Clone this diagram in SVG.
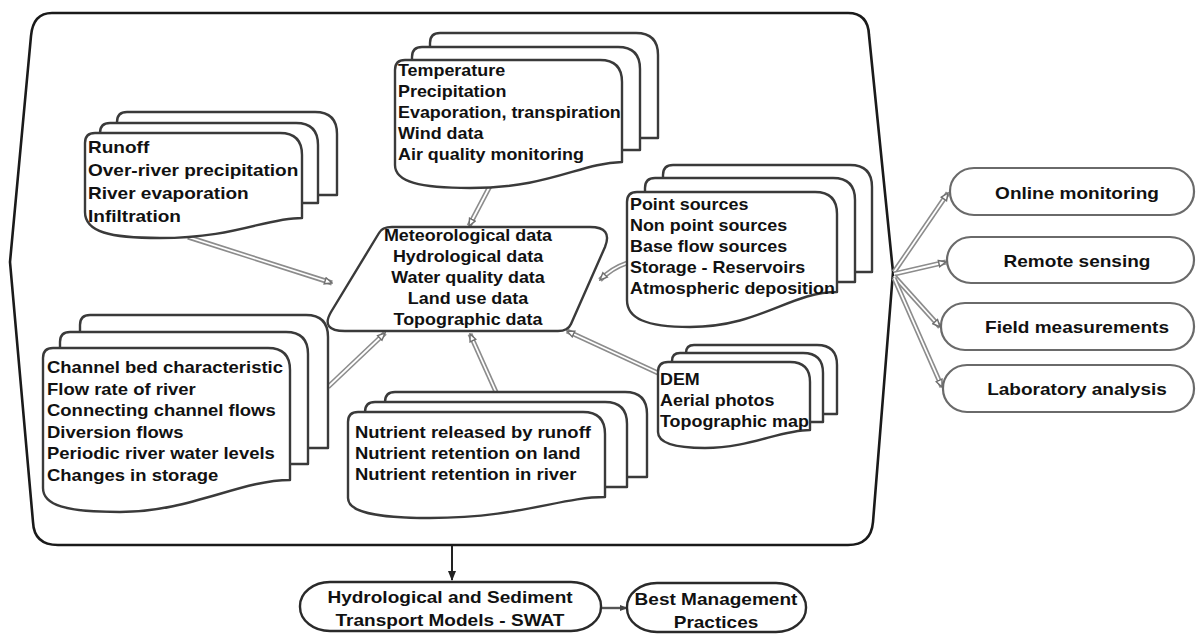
<svg xmlns="http://www.w3.org/2000/svg" width="1198" height="634" viewBox="0 0 1198 634">
<defs>
<style>
.bg{fill:#fff}
.frame{fill:none;stroke:#1a1a1a;stroke-width:2.6;stroke-linejoin:round}
.doc{fill:#fff;stroke:#3a3a3a;stroke-width:2.4;stroke-linejoin:round}
.pill{fill:#fff;stroke:#6a6a6a;stroke-width:2.2}
.pill2{fill:#fff;stroke:#2a2a2a;stroke-width:2.4}
.c1{fill:none;stroke:#8c8c8c;stroke-width:5;stroke-linecap:butt}
.c2{fill:none;stroke:#fff;stroke-width:1.8;stroke-linecap:butt}
.blk{fill:none;stroke:#222;stroke-width:2}
.gr{fill:none;stroke:#555;stroke-width:2.4}
text{font-family:"Liberation Sans",Arial,sans-serif;font-weight:bold;fill:#111}
.f16{font-size:16px}
.f165{font-size:16.5px}
.f17{font-size:17px}
.mid{text-anchor:middle}
</style>
<marker id="ah" viewBox="0 0 10 10" refX="9" refY="5" markerWidth="9" markerHeight="9" markerUnits="userSpaceOnUse" orient="auto">
<path d="M1,1.5 L9,5 L1,8.5 Z" fill="#fff" stroke="#6f6f6f" stroke-width="1.6"/>
</marker>
<marker id="ahb" viewBox="0 0 10 10" refX="9" refY="5" markerWidth="10" markerHeight="10" markerUnits="userSpaceOnUse" orient="auto">
<path d="M0,1 L10,5 L0,9 Z" fill="#222"/>
</marker>
<marker id="ahg" viewBox="0 0 10 10" refX="9" refY="5" markerWidth="8" markerHeight="8" markerUnits="userSpaceOnUse" orient="auto">
<path d="M0,1 L10,5 L0,9 Z" fill="#444"/>
</marker>
</defs>
<rect class="bg" x="0" y="0" width="1198" height="634"/>

<g id="container">
<path class="frame" d="M52,13 L848,13 Q868,13 869,35 L893,272 L873,522 Q871,545 848,545 L58,545 Q34,545 33,522 L10,262 L31,36 Q33,13 52,13 Z"/>
</g>

<g id="connectors">
<path class="c1" d="M188,237 L332,283"/><path class="c2" d="M188,237 L332,283" marker-end="url(#ah)"/>
<path class="c1" d="M490,186 L469,226"/><path class="c2" d="M490,186 L469,226" marker-end="url(#ah)"/>
<path class="c1" d="M627,263 Q612,268 600,280"/><path class="c2" d="M627,263 Q612,268 600,280" marker-end="url(#ah)"/>
<path class="c1" d="M658,373 L567,331"/><path class="c2" d="M658,373 L567,331" marker-end="url(#ah)"/>
<path class="c1" d="M496,392 L470,334"/><path class="c2" d="M496,392 L470,334" marker-end="url(#ah)"/>
<path class="c1" d="M328,387 L385,333"/><path class="c2" d="M328,387 L385,333" marker-end="url(#ah)"/>
<path class="c1" d="M894,272 L948,193"/><path class="c2" d="M894,272 L948,193" marker-end="url(#ah)"/>
<path class="c1" d="M894,274 L946,262"/><path class="c2" d="M894,274 L946,262" marker-end="url(#ah)"/>
<path class="c1" d="M894,276 L940,327"/><path class="c2" d="M894,276 L940,327" marker-end="url(#ah)"/>
<path class="c1" d="M894,278 L942,387"/><path class="c2" d="M894,278 L942,387" marker-end="url(#ah)"/>
<path class="blk" d="M452,546 L452,580" marker-end="url(#ahb)"/>
<path class="gr" d="M601,608 L627,608" marker-end="url(#ahg)"/>
</g>

<g id="node-runoff">
<path class="doc" d="M117,195 L117,122 Q117,112 127,112 L315,112 Q337,112 337,134 L337,195 Z"/>
<path class="doc" d="M100,203 L100,133 Q100,123 110,123 L296,123 Q318,123 318,145 L318,203 Z"/>
<path class="doc" d="M85,143 Q85,133 95,133 L280,133 Q302,133 302,155 L302,218 C265,218 235,238 160,238 C110,238 85,232 85,212 Z"/>
<g transform="translate(88 0) scale(1.12 1)"><text class="f17"><tspan x="0" y="153">Runoff</tspan><tspan x="0" y="176">Over-river precipitation</tspan><tspan x="0" y="199">River evaporation</tspan><tspan x="0" y="222">Infiltration</tspan></text></g>
</g>

<g id="node-meteo">
<path class="doc" d="M430,138 L430,43 Q430,33 440,33 L636,33 Q658,33 658,55 L658,138 Z"/>
<path class="doc" d="M412,150 L412,57 Q412,47 422,47 L618,47 Q640,47 640,69 L640,150 Z"/>
<path class="doc" d="M395,70 Q395,60 405,60 L600,60 Q622,60 622,82 L622,162 C580,163 550,188 470,188 C420,188 395,182 395,165 Z"/>
<g transform="translate(398 0) scale(1.12 1)"><text class="f16"><tspan x="0" y="76">Temperature</tspan><tspan x="0" y="97">Precipitation</tspan><tspan x="0" y="118">Evaporation, transpiration</tspan><tspan x="0" y="139">Wind data</tspan><tspan x="0" y="160">Air quality monitoring</tspan></text></g>
</g>

<g id="node-sources">
<path class="doc" d="M663,272 L663,175 Q663,165 673,165 L850,165 Q872,165 872,187 L872,272 Z"/>
<path class="doc" d="M645,282 L645,188 Q645,178 655,178 L833,178 Q855,178 855,200 L855,282 Z"/>
<path class="doc" d="M627,202 Q627,192 637,192 L815,192 Q837,192 837,214 L837,292 C790,292 760,327 690,327 C645,327 627,318 627,300 Z"/>
<g transform="translate(630 0) scale(1.12 1)"><text class="f16"><tspan x="0" y="210">Point sources</tspan><tspan x="0" y="231">Non point sources</tspan><tspan x="0" y="252">Base flow sources</tspan><tspan x="0" y="273">Storage - Reservoirs</tspan><tspan x="0" y="294">Atmospheric deposition</tspan></text></g>
</g>

<g id="node-data">
<path class="doc" d="M392,227 L590,227 Q613,227 605,247 L571,324 Q568,331 558,331 L345,331 Q320,331 331,312 L379,233 Q382,227 392,227 Z"/>
<g transform="translate(468 0) scale(1.12 1)"><text class="f16 mid"><tspan x="0" y="241">Meteorological data</tspan><tspan x="0" y="262">Hydrological data</tspan><tspan x="0" y="283">Water quality data</tspan><tspan x="0" y="304">Land use data</tspan><tspan x="0" y="325">Topographic data</tspan></text></g>
</g>

<g id="node-channel">
<path class="doc" d="M80,448 L80,325 Q80,315 90,315 L306,315 Q328,315 328,337 L328,448 Z"/>
<path class="doc" d="M60,464 L60,342 Q60,332 70,332 L286,332 Q308,332 308,354 L308,464 Z"/>
<path class="doc" d="M43,358 Q43,348 53,348 L268,348 Q290,348 290,370 L290,480 C240,480 190,512 120,512 C65,512 43,505 43,488 Z"/>
<g transform="translate(47 0) scale(1.12 1)"><text class="f165"><tspan x="0" y="373">Channel bed characteristic</tspan><tspan x="0" y="395">Flow rate of river</tspan><tspan x="0" y="416">Connecting channel flows</tspan><tspan x="0" y="438">Diversion flows</tspan><tspan x="0" y="459">Periodic river water levels</tspan><tspan x="0" y="481">Changes in storage</tspan></text></g>
</g>

<g id="node-nutrient">
<path class="doc" d="M385,477 L385,402 Q385,392 395,392 L625,392 Q647,392 647,414 L647,477 Z"/>
<path class="doc" d="M365,487 L365,412 Q365,402 375,402 L605,402 Q627,402 627,424 L627,487 Z"/>
<path class="doc" d="M348,422 Q348,412 358,412 L583,412 Q605,412 605,434 L605,497 C560,497 520,518 430,518 C375,518 348,512 348,498 Z"/>
<g transform="translate(355 0) scale(1.12 1)"><text class="f165"><tspan x="0" y="438">Nutrient released by runoff</tspan><tspan x="0" y="459">Nutrient retention on land</tspan><tspan x="0" y="480">Nutrient retention in river</tspan></text></g>
</g>

<g id="node-dem">
<path class="doc" d="M686,414 L686,353 Q686,345 694,345 L817,345 Q837,345 837,365 L837,414 Z"/>
<path class="doc" d="M672,422 L672,361 Q672,353 680,353 L803,353 Q823,353 823,373 L823,422 Z"/>
<path class="doc" d="M658,372 Q658,362 668,362 L790,362 Q810,362 810,382 L810,430 C780,430 750,448 705,448 C672,448 658,442 658,432 Z"/>
<g transform="translate(660 0) scale(1.12 1)"><text class="f16"><tspan x="0" y="385">DEM</tspan><tspan x="0" y="406">Aerial photos</tspan><tspan x="0" y="427">Topographic map</tspan></text></g>
</g>

<g id="node-online">
<rect class="pill" x="950" y="168" width="244" height="47" rx="24" ry="23"/>
<g transform="translate(1077 0) scale(1.12 1)"><text class="f17 mid" x="0" y="199">Online monitoring</text></g>
</g>
<g id="node-remote">
<rect class="pill" x="947" y="237" width="247" height="46" rx="24" ry="23"/>
<g transform="translate(1077 0) scale(1.12 1)"><text class="f17 mid" x="0" y="267">Remote sensing</text></g>
</g>
<g id="node-field">
<rect class="pill" x="941" y="303" width="253" height="47" rx="24" ry="23"/>
<g transform="translate(1077 0) scale(1.12 1)"><text class="f17 mid" x="0" y="333">Field measurements</text></g>
</g>
<g id="node-lab">
<rect class="pill" x="943" y="365" width="251" height="47" rx="24" ry="23"/>
<g transform="translate(1077 0) scale(1.12 1)"><text class="f17 mid" x="0" y="395">Laboratory analysis</text></g>
</g>

<g id="node-swat">
<rect class="pill2" x="300" y="582" width="301" height="49" rx="30" ry="24"/>
<g transform="translate(450 0) scale(1.12 1)"><text class="f17 mid"><tspan x="0" y="603">Hydrological and Sediment</tspan><tspan x="0" y="626">Transport Models - SWAT</tspan></text></g>
</g>
<g id="node-bmp">
<rect class="pill2" x="627" y="583" width="179" height="49" rx="30" ry="24"/>
<g transform="translate(716 0) scale(1.12 1)"><text class="f17 mid"><tspan x="0" y="605">Best Management</tspan><tspan x="0" y="628">Practices</tspan></text></g>
</g>
</svg>
